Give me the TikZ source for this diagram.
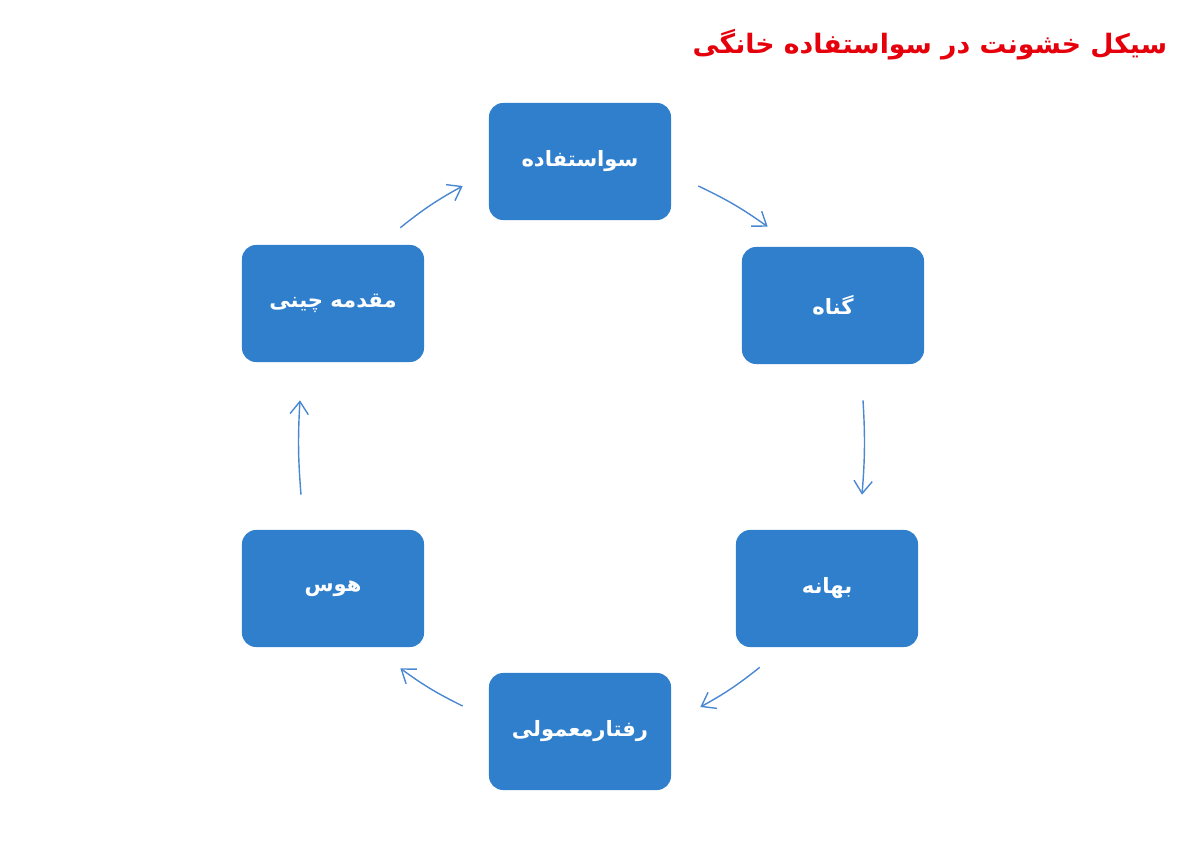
\documentclass[tikz,border=0pt]{standalone}
\usepackage{fontspec}
\usetikzlibrary{arrows.meta}
\TeXXeTstate=1
\newfontfamily\arabicfont[Script=Arabic]{DejaVu Sans}
\definecolor{kastenblau}{HTML}{2F7FCC}
\definecolor{pfeilblau}{HTML}{4A88D2}
\definecolor{titelrot}{HTML}{E6000B}

\begin{document}
\begin{tikzpicture}[
    x=0.025cm, y=0.025cm,
    kasten/.style={
      rectangle,
      rounded corners=10pt,
      fill=kastenblau,
      minimum width=4.55cm,
      minimum height=2.925cm,
      text=white,
      font=\arabicfont\bfseries\fontsize{15}{18}\selectfont},
    pfeil/.style={
      draw=pfeilblau,
      line width=1pt,
      -{Straight Barb[length=9pt,width=13pt,line width=1pt]}}
    ]

  \useasboundingbox (0,0) rectangle (1200,-840);

  \node at (1172,-45) (titel) [anchor=east, text=titelrot, font=\arabicfont\bfseries\fontsize{19}{22}\selectfont] {\beginR سیکل خشونت در سواستفاده خانگی\endR};

  \node at (580,-161.5) (kasten0) [kasten] {\beginR سواستفاده\endR};
\node at (833,-305.5) (kasten1) [kasten] {\beginR گناه\endR};
\node at (827,-588.5) (kasten2) [kasten] {\beginR بهانه\endR};
\node at (580,-731.5) (kasten3) [kasten] {\beginR رفتارمعمولی\endR};
\node at (333,-588.5) (kasten4) [kasten] {\beginR هوس\endR};
\node at (333,-303.5) (kasten5) [kasten] {\beginR مقدمه چینی\endR};



  \path[every edge/.style={pfeil}]

        ([shift={(27,-24.5)}]kasten0.east) edge[bend left=5] ([shift={(26,20)}]kasten1.north west)
([shift={(30,-36)}]kasten1.south) edge[bend left=4] ([shift={(35,35)}]kasten2.north)
([shift={(24,-20)}]kasten2.south west) edge[bend left=5] ([shift={(29,24.5)}]kasten3.east)
([shift={(-26,25.5)}]kasten3.west) edge[bend left=5] ([shift={(-24,-21)}]kasten4.south east)
([shift={(-32,35)}]kasten4.north) edge[bend left=4] ([shift={(-33,-38)}]kasten5.south)
([shift={(-24,17)}]kasten5.north east) edge[bend left=5] ([shift={(-26,-24.5)}]kasten0.west)

   ;

\end{tikzpicture}
\end{document}
